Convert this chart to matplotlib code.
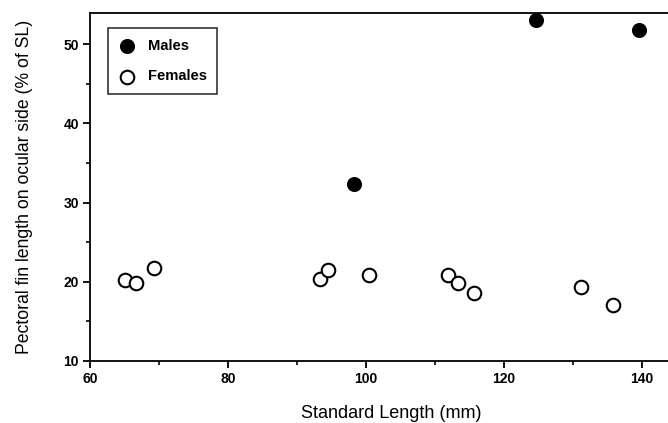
import numpy as np
import matplotlib
matplotlib.use("Agg")
import matplotlib.pyplot as plt
from matplotlib.ticker import MultipleLocator

# Standard length (mm) vs pectoral fin length (% of SL)
males_sl = [98.3, 124.7, 139.6]
males_fin = [32.4, 53.1, 51.8]

females_sl = [65.1, 66.6, 69.3, 93.3, 94.5, 100.4, 111.9, 113.3, 115.7, 131.2, 135.8]
females_fin = [20.2, 19.8, 21.8, 20.4, 21.5, 20.9, 20.9, 19.9, 18.6, 19.3, 17.1]

plt.rcParams['font.family'] = ['Liberation Sans', 'DejaVu Sans']

fig = plt.figure(figsize=(6.68, 4.23), dpi=100)
ax = fig.add_axes([0.1347, 0.1466, 0.8653, 0.822])

ax.scatter(males_sl, males_fin, s=95, color='black', edgecolors='black',
           linewidths=1.1, label='Males', zorder=3, clip_on=False)
ax.scatter(females_sl, females_fin, s=95, color='white', edgecolors='black',
           linewidths=1.5, label='Females', zorder=3, clip_on=False)

ax.set_xlim(60, 143.8)
ax.set_ylim(10, 53.9)
ax.xaxis.set_major_locator(MultipleLocator(20))
ax.xaxis.set_minor_locator(MultipleLocator(10))
ax.yaxis.set_major_locator(MultipleLocator(10))
ax.yaxis.set_minor_locator(MultipleLocator(5))
ax.tick_params(which='major', direction='out', length=5, width=1.3,
               labelsize=10, pad=3)
ax.tick_params(which='minor', direction='out', length=3, width=1.2)
for lbl in ax.get_xticklabels() + ax.get_yticklabels():
    lbl.set_fontweight('bold')

ax.spines['right'].set_visible(False)
for s in ['left', 'bottom', 'top']:
    ax.spines[s].set_linewidth(1.3)

ax.set_xlabel('Standard Length (mm)', fontsize=13)
ax.xaxis.set_label_coords(0.521, -0.126)
ax.set_ylabel('Pectoral fin length on ocular side (% of SL)', fontsize=12.7)
ax.yaxis.set_label_coords(-0.0986, 0.5)

leg = ax.legend(loc='upper left', bbox_to_anchor=(0.031, 0.957), frameon=True,
                fancybox=False, edgecolor='black', fontsize=10.6, handletextpad=0.8,
                borderpad=0.7, labelspacing=1.15, handlelength=1.2, borderaxespad=0)
leg.get_frame().set_linewidth(1.2)
for t in leg.get_texts():
    t.set_fontweight('bold')

fig.savefig('out.png', dpi=100)
